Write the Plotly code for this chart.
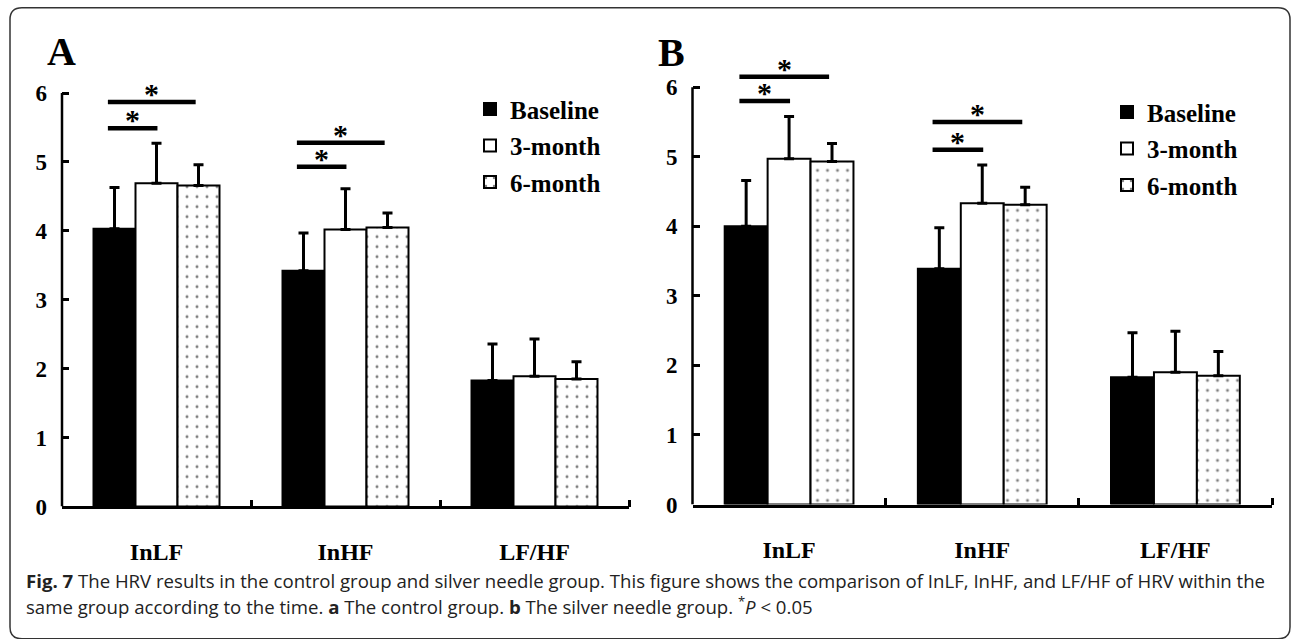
import plotly.graph_objects as go

# ---------------- data ----------------
categories = ["InLF", "InHF", "LF/HF"]
groups = ["Baseline", "3-month", "6-month"]
cat_pos = [0, 1, 2]

a_baseline = [4.03, 3.42, 1.83]
a_3month = [4.69, 4.02, 1.89]
a_6month = [4.66, 4.05, 1.85]
a_baseline_sd = [0.60, 0.55, 0.53]
a_3month_sd = [0.58, 0.59, 0.54]
a_6month_sd = [0.30, 0.21, 0.25]

b_baseline = [4.00, 3.39, 1.83]
b_3month = [4.97, 4.33, 1.90]
b_6month = [4.93, 4.31, 1.85]
b_baseline_sd = [0.66, 0.59, 0.64]
b_3month_sd = [0.61, 0.55, 0.59]
b_6month_sd = [0.26, 0.25, 0.35]

# significance brackets: (category index, from group, to group, height)
a_sig = [(0, 0, 1, 5.49), (0, 0, 2, 5.87), (1, 0, 1, 4.93), (1, 0, 2, 5.28)]
b_sig = [(0, 0, 1, 5.80), (0, 0, 2, 6.15), (1, 0, 1, 5.10), (1, 0, 2, 5.50)]

y_ticks = [0, 1, 2, 3, 4, 5, 6]

# ---------------- styling ----------------
W, H = 1292, 639
SERIF = "Liberation Serif"
BARGAP = 1 / 3
bar_w = (1 - BARGAP) / 3


def px_x(p):
    return p / W


def px_y(p):
    return 1 - p / H


def offset(g):
    return (g - 1) * bar_w


fills = ["black", "white", "white"]
patterns = [dict(shape=""), dict(shape=""),
            dict(shape=".", fgcolor="black", bgcolor="white", size=10, solidity=0.07)]

fig = go.Figure()

panels = [
    dict(xa="x", ya="y", legend="legend",
         vals=[a_baseline, a_3month, a_6month],
         sds=[a_baseline_sd, a_3month_sd, a_6month_sd], sig=a_sig),
    dict(xa="x2", ya="y2", legend="legend2",
         vals=[b_baseline, b_3month, b_6month],
         sds=[b_baseline_sd, b_3month_sd, b_6month_sd], sig=b_sig),
]

for pi, p in enumerate(panels):
    for g in range(3):
        fig.add_trace(go.Bar(
            x=cat_pos, y=p["vals"][g], name=groups[g],
            xaxis=p["xa"], yaxis=p["ya"], legend=p["legend"],
            legendgroup=f"p{pi}g{g}",
            marker=dict(color=fills[g], line=dict(color="black", width=2),
                        pattern=patterns[g]),
            error_y=dict(type="data", symmetric=False, array=p["sds"][g],
                         arrayminus=[0] * len(cat_pos), color="black",
                         thickness=3, width=5),
            offsetgroup=str(g),
        ))
    for (c, g0, g1, h) in p["sig"]:
        x0 = cat_pos[c] + offset(g0) - 0.035
        x1 = cat_pos[c] + offset(g1) + (0.005 if g1 == 1 else -0.015)
        fig.add_trace(go.Scatter(
            x=[x0, x1], y=[h, h], mode="lines", xaxis=p["xa"], yaxis=p["ya"],
            line=dict(color="black", width=4.5), showlegend=False,
            hoverinfo="skip", cliponaxis=False))
        fig.add_annotation(x=(x0 + x1) / 2, y=h, xref=p["xa"], yref=p["ya"],
                           text="*", showarrow=False, yanchor="bottom",
                           yshift=-10,
                           font=dict(family=SERIF, size=30, color="black", weight="bold"))

# domains (px)
A_left, A_right, A_zero, A_six = 62, 629, 517, 95
B_left, B_right, B_zero, B_six = 692.5, 1272, 515, 89
YMAX = 6.6


def ydomain(zero, six):
    unit = (zero - six) / 6
    top = zero - unit * YMAX
    return [px_y(zero), px_y(top)]


axis_font = dict(family=SERIF, size=23, color="black", weight="bold")
xlab_font = dict(family=SERIF, size=24, color="black", weight="bold")
legend_font = dict(family=SERIF, size=25, color="black", weight="bold")

common_x = dict(range=[-0.5, 2.5], showgrid=False, zeroline=False,
                showline=True, linecolor="black", linewidth=2.5,
                tickmode="array", tickvals=cat_pos, ticktext=categories,
                ticks="", tickfont=xlab_font, ticklabelstandoff=22,
                minor=dict(tickmode="array", tickvals=[0.5, 1.5, 2.5],
                           ticks="inside", ticklen=7, tickwidth=2.5,
                           tickcolor="black", showgrid=False),
                fixedrange=True)
common_y = dict(range=[0, YMAX], showgrid=False, zeroline=False, showline=False,
                tickmode="array", tickvals=y_ticks, ticks="inside", ticklen=7,
                tickwidth=2.5, tickcolor="black", tickfont=axis_font,
                ticklabelstandoff=14, fixedrange=True)

fig.update_layout(
    width=W, height=H, margin=dict(l=0, r=0, t=0, b=0), autosize=False,
    paper_bgcolor="white", plot_bgcolor="rgba(0,0,0,0)",
    barmode="group", bargap=BARGAP, bargroupgap=0,
    xaxis=dict(domain=[px_x(A_left), px_x(A_right)], anchor="y", **common_x),
    yaxis=dict(domain=ydomain(A_zero, A_six), anchor="x", **common_y),
    xaxis2=dict(domain=[px_x(B_left), px_x(B_right)], anchor="y2", **common_x),
    yaxis2=dict(domain=ydomain(B_zero, B_six), anchor="x2", **common_y),
    legend=dict(x=px_x(470), y=px_y(88), xanchor="left", yanchor="top",
                bgcolor="rgba(0,0,0,0)", itemwidth=30, tracegroupgap=1,
                font=legend_font),
    legend2=dict(x=px_x(1107), y=px_y(91), xanchor="left", yanchor="top",
                 bgcolor="rgba(0,0,0,0)", itemwidth=30, tracegroupgap=1,
                 font=legend_font),
    showlegend=True,
)

# y axis lines from 0 to 6 only
for xa_left, ya in [(A_left, "y"), (B_left, "y2")]:
    fig.add_shape(type="line", xref="paper", yref=ya,
                  x0=px_x(xa_left), x1=px_x(xa_left), y0=0, y1=max(y_ticks),
                  line=dict(color="black", width=2.5))

# panel letters
letter_font = dict(family=SERIF, size=40, color="black", weight="bold")
fig.add_annotation(x=px_x(45), y=px_y(28), xref="paper", yref="paper", text="A",
                   showarrow=False, font=letter_font)
fig.add_annotation(x=px_x(671), y=px_y(29), xref="paper", yref="paper", text="B",
                   showarrow=False, font=letter_font)

# caption
cap_font = dict(family="Open Sans", size=18.6, color="#222222")
fig.add_annotation(
    x=px_x(24), y=px_y(593), xref="paper", yref="paper", xanchor="left", yanchor="middle",
    showarrow=False, font=cap_font,
    text="<b>Fig. 7</b> The HRV results in the control group and silver needle group. "
         "This figure shows the comparison of InLF, InHF, and LF/HF of HRV within the")
fig.add_annotation(
    x=px_x(24), y=px_y(618), xref="paper", yref="paper", xanchor="left", yanchor="middle",
    showarrow=False, font=cap_font,
    text="same group according to the time. <b>a</b> The control group. "
         "<b>b</b> The silver needle group. <sup>*</sup><i>P</i> &lt; 0.05")

# rounded border
r = 12
L, T, R, B = 10, 8, 1290, 652
path = (f"M {px_x(L)},{px_y(T + r)} Q {px_x(L)},{px_y(T)} {px_x(L + r)},{px_y(T)} "
        f"L {px_x(R - r)},{px_y(T)} Q {px_x(R)},{px_y(T)} {px_x(R)},{px_y(T + r)} "
        f"L {px_x(R)},{px_y(B - r)} Q {px_x(R)},{px_y(B)} {px_x(R - r)},{px_y(B)} "
        f"L {px_x(L + r)},{px_y(B)} Q {px_x(L)},{px_y(B)} {px_x(L)},{px_y(B - r)} Z")
fig.add_shape(type="path", path=path, xref="paper", yref="paper",
              line=dict(color="#333333", width=1.5))

fig.write_html("out.html")
